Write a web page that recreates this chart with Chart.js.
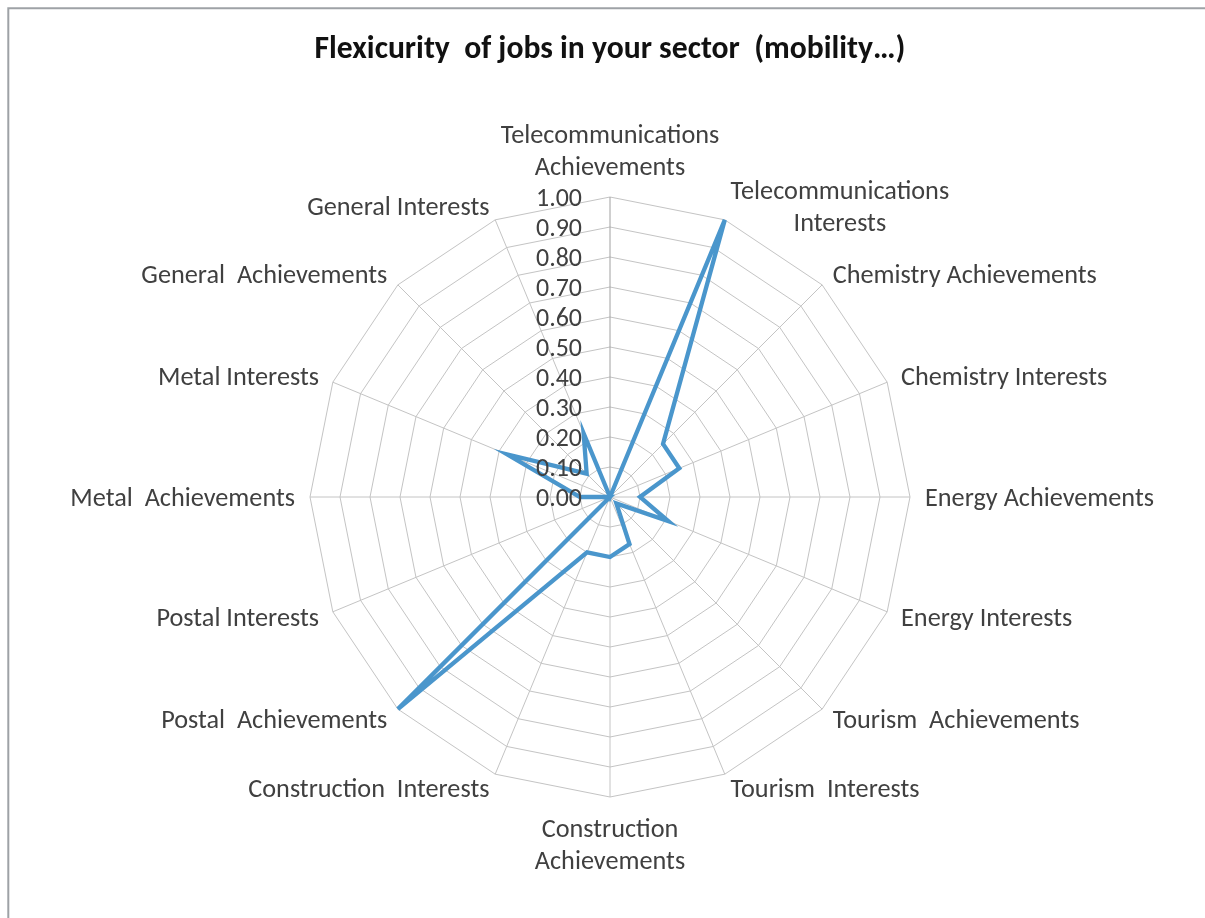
<!DOCTYPE html>
<html>
<head>
<meta charset="utf-8">
<title>Flexicurity of jobs in your sector</title>
<script src="https://cdn.jsdelivr.net/npm/chart.js@4.4.1/dist/chart.umd.min.js"></script>
<style>
  html, body { margin: 0; padding: 0; background: #fff; }
  canvas { display: block; }
</style>
</head>
<body>
<canvas id="radarChart" width="1205" height="918"></canvas>
<script>
// categories, clockwise from the top (each entry = lines of the label)
const categories = [
    ['Telecommunications', 'Achievements'],
    ['Telecommunications', 'Interests'],
    ['Chemistry Achievements'],
    ['Chemistry Interests'],
    ['Energy Achievements'],
    ['Energy Interests'],
    ['Tourism  Achievements'],
    ['Tourism  Interests'],
    ['Construction', 'Achievements'],
    ['Construction  Interests'],
    ['Postal  Achievements'],
    ['Postal Interests'],
    ['Metal  Achievements'],
    ['Metal Interests'],
    ['General  Achievements'],
    ['General Interests']
];
// values
const values = [0.00, 1.00, 0.25, 0.25, 0.10, 0.21, 0.03, 0.17, 0.20, 0.20, 1.00, 0.00, 0.10, 0.37, 0.11, 0.23];
// tick labels of the value axis
const tickLabels = ['0.00', '0.10', '0.20', '0.30', '0.40', '0.50', '0.60', '0.70', '0.80', '0.90', '1.00'];

const chartTitle = 'Flexicurity  of jobs in your sector  (mobility\u2026)';
const FONT = 'Carlito, Lato, sans-serif';
const LINE_H = 32;

// size the font so the text gets the same width as in the picture
const measureCtx = document.createElement('canvas').getContext('2d');
function fitSize(text, weight, target) {
    measureCtx.font = weight + ' 100px ' + FONT;
    return 100 * target / measureCtx.measureText(text).width;
}
const titleSize = fitSize(chartTitle, 'bold', 591);
const labelSize = fitSize('Energy Achievements', 'normal', 229);
const tickSize = fitSize('1.00', 'normal', 46);

// white page with the grey frame on top and left
const framePlugin = {
    id: 'frame',
    beforeDraw(chart) {
        const ctx = chart.ctx;
        ctx.save();
        ctx.fillStyle = '#fff';
        ctx.fillRect(0, 0, chart.width, chart.height);
        ctx.strokeStyle = '#9ea2a6';
        ctx.lineWidth = 2;
        ctx.beginPath();
        ctx.moveTo(8.3, chart.height);
        ctx.lineTo(8.3, 8.3);
        ctx.lineTo(chart.width, 8.3);
        ctx.stroke();
        ctx.restore();
    }
};

// Excel style labels: ticks left of the value axis, category labels outside the web
const labelsPlugin = {
    id: 'excelLabels',
    afterDatasetsDraw(chart) {
        const ctx = chart.ctx;
        const r = chart.scales.r;
        ctx.save();
        ctx.fillStyle = '#404040';
        ctx.textBaseline = 'middle';

        ctx.font = tickSize + 'px ' + FONT;
        ctx.textAlign = 'right';
        tickLabels.forEach(t => {
            const d = r.getDistanceFromCenterForValue(parseFloat(t));
            ctx.fillText(t, r.xCenter - 28, r.yCenter - d + 2.5);
        });

        ctx.font = labelSize + 'px ' + FONT;
        ctx.textAlign = 'center';
        categories.forEach((lines, i) => {
            const p = r.getPointPosition(i, r.drawingArea + 15);
            const angle = i * 360 / categories.length;
            const blockW = Math.max(...lines.map(l => ctx.measureText(l).width));
            const blockH = lines.length * LINE_H;
            let left, top;
            if (angle === 0) {
                left = p.x - blockW / 2; top = p.y - blockH;
            } else if (angle === 180) {
                left = p.x - blockW / 2; top = p.y;
            } else if (angle < 180) {
                left = p.x; top = p.y - blockH / 2;
            } else {
                left = p.x - blockW; top = p.y - blockH / 2;
            }
            lines.forEach((l, k) => {
                ctx.fillText(l, left + blockW / 2, top + LINE_H * (k + 0.5) + 2);
            });
        });
        ctx.restore();
    }
};

const ctx = document.getElementById('radarChart').getContext('2d');
const radarChart = new Chart(ctx, {
    type: 'radar',
    data: {
        labels: categories,
        datasets: [{
            data: values,
            borderColor: '#4a96cc',
            borderWidth: 4.3,
            fill: false,
            pointRadius: 0,
            pointHoverRadius: 0,
            tension: 0
        }]
    },
    options: {
        responsive: false,
        animation: false,
        devicePixelRatio: 1,
        layout: {
            padding: { left: 15, right: 0, top: 0, bottom: 121 }
        },
        plugins: {
            legend: { display: false },
            tooltip: { enabled: false },
            title: {
                display: true,
                text: chartTitle,
                color: '#111',
                font: { family: FONT, size: titleSize, weight: 'bold', lineHeight: '30px' },
                padding: { top: 35, bottom: 132 }
            }
        },
        scales: {
            r: {
                min: 0,
                max: 1,
                ticks: { display: false, stepSize: 0.1 },
                pointLabels: { display: false },
                grid: { circular: false, color: '#c4c4c4', lineWidth: 1 },
                angleLines: {
                    color: c => c.index === 0 ? '#a0a0a0' : '#c4c4c4',
                    lineWidth: 1
                }
            }
        }
    },
    plugins: [framePlugin, labelsPlugin]
});
</script>
</body>
</html>
